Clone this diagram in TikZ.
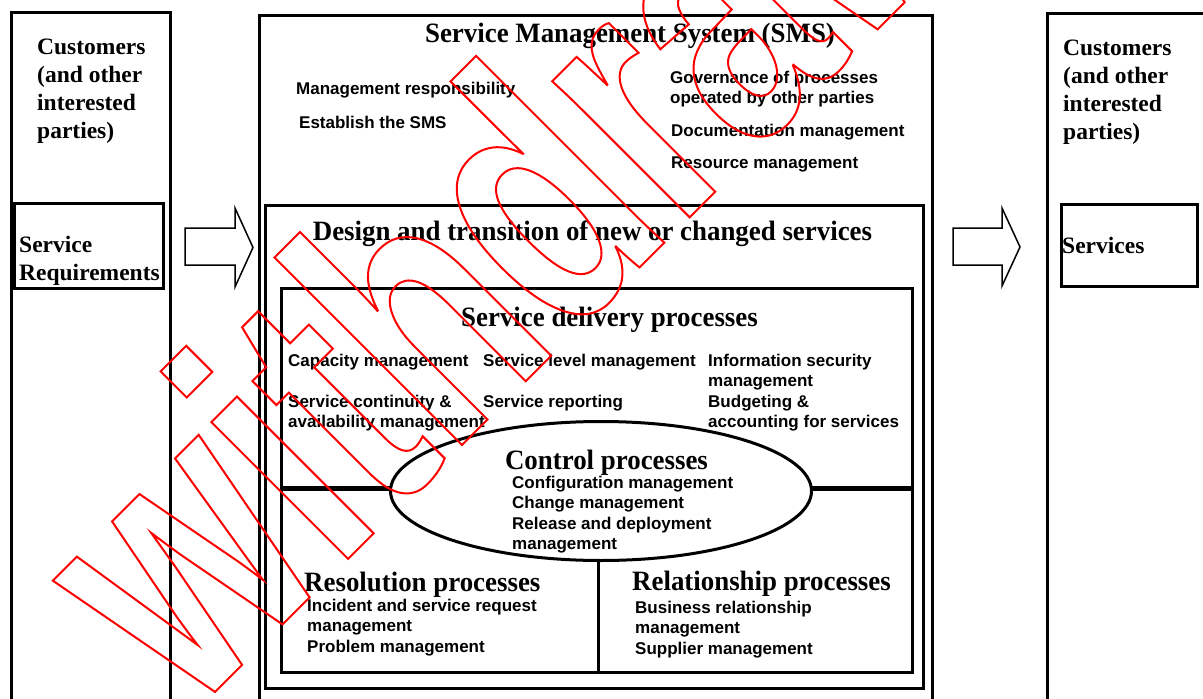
\documentclass[tikz,border=0pt]{standalone}
\usepackage{fontspec}
\setmainfont{Liberation Serif}
\newfontfamily\sidefont{Liberation Serif Bold}
\newfontfamily\headfont{Liberation Serif Bold}[FakeStretch=0.96]
\newfontfamily\itemfont{Liberation Sans Bold}
\newfontfamily\markfont{Liberation Sans Bold}[FakeStretch=0.72]
\usetikzlibrary{shapes.geometric}

\tikzset{
  boxline/.style={line width=3pt},
  sidetext/.style={font=\sidefont\fontsize{23.5}{28}\selectfont, align=left, anchor=base west, inner sep=0pt},
  headtext/.style={font=\headfont\fontsize{28}{30}\selectfont, inner sep=0pt, anchor=base},
  itemtext/.style={font=\itemfont\fontsize{17}{20.5}\selectfont, align=left, anchor=base west, inner sep=0pt},
  blockarrow/.style={draw, line width=1.5pt, fill=white, line join=miter}
}

\begin{document}
\begin{tikzpicture}[x=1pt,y=-1pt]
  \useasboundingbox (0,0) rectangle (1203,699);
  \clip (0,0) rectangle (1203,699);
  \fill[white] (0,0) rectangle (1203,699);

  % customers on both sides (multi-line nodes sit on their last line)
  \draw[boxline] (11,12) rectangle (170,720);
  \draw[boxline] (14.5,203) rectangle (163,288);
  \draw[boxline] (1047,13) rectangle (1220,720);
  \draw[boxline] (1061,204) rectangle (1197,286);
  \node[sidetext] (custin) at (37,138) {Customers\\(and other\\interested\\parties)};
  \node[sidetext] (req) at (19,280.5) {Service\\Requirements};
  \node[sidetext] (custout) at (1063,139) {Customers\\(and other\\interested\\parties)};
  \node[sidetext] (serv) at (1062,253) {Services};

  % arrows in and out
  \draw[blockarrow] (185,228) -- (235,228) -- (235,208) -- (253,247.5) -- (235,287) -- (235,265) -- (185,265) -- cycle;
  \draw[blockarrow] (953,228) -- (1002,228) -- (1002,208) -- (1020,247) -- (1002,286) -- (1002,265) -- (953,265) -- cycle;

  % the SMS and its inner boxes
  \draw[boxline] (259,15) rectangle (932,720);
  \draw[boxline] (265,205) rectangle (923,688);
  \draw[boxline] (281.5,288) rectangle (912,672);
  \coordinate (dleft) at (281.5,488);
  \coordinate (dright) at (912,488);
  \coordinate (dbottom) at (598,672);
  \draw[line width=5pt] (dleft) -- (dright);
  \node[ellipse, draw, line width=3pt, fill=white, minimum width=421pt, minimum height=139pt, inner sep=0pt] (ctrl) at (601,491) {};
  \draw[boxline] (ctrl.south -| dbottom) -- (dbottom);

  \node[headtext] (sms) at (630,42) {Service Management System (SMS)};
  \node[itemtext] (mresp) at (296,94) {Management responsibility};
  \node[itemtext] (estab) at (299,128) {Establish the SMS};
  \node[itemtext] (gov) at (670,103.5) {Governance of processes\\operated by other parties};
  \node[itemtext] (doc) at (671,136) {Documentation management};
  \node[itemtext] (res) at (671,168) {Resource management};

  \node[headtext] (design) at (592.5,240) {Design and transition of new or changed services};

  \node[headtext] (deliv) at (609.5,326) {Service delivery processes};
  \node[itemtext] (cap) at (288,366) {Capacity management};
  \node[itemtext] (slm) at (483,366) {Service level management};
  \node[itemtext] (isec) at (708,386.5) {Information security\\management};
  \node[itemtext] (cont) at (288,427.5) {Service continuity \&\\availability management};
  \node[itemtext] (srep) at (483,407) {Service reporting};
  \node[itemtext] (budg) at (708,427.5) {Budgeting \&\\accounting for services};

  \node[headtext] (ctrltitle) at (606.5,469) {Control processes};
  \node[itemtext] (ctrlitems) at (512,549.5) {Configuration management\\Change management\\Release and deployment\\management};

  \node[headtext, anchor=base west] (resol) at (304,591) {Resolution processes};
  \node[itemtext] (resolitems) at (307,652) {Incident and service request\\management\\Problem management};
  \node[headtext, anchor=base west] (relat) at (632,590) {Relationship processes};
  \node[itemtext] (relatitems) at (635,654) {Business relationship\\management\\Supplier management};

  % watermark
  \node[text=red, rotate=45, anchor=base west, inner sep=0pt, font=\markfont\fontsize{366}{366}\selectfont] (mark) at (190,717) {\special{pdf:literal direct 1 Tr 2 w}withdrawn\special{pdf:literal direct 0 Tr}};
\end{tikzpicture}
\end{document}
